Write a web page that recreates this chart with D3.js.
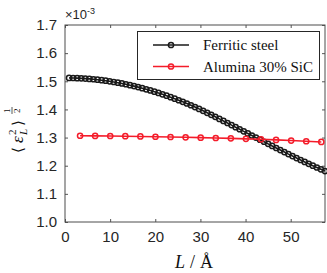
<!DOCTYPE html>
<html>
<head>
<meta charset="utf-8">
<script src="https://cdn.jsdelivr.net/npm/d3@7"></script>
<style>
  body { margin: 0; background: #fff; }
  svg { display: block; }
  .tick text { font-family: "Liberation Sans", Arial, sans-serif; font-size: 15px; fill: #262626; }
  .serif { font-family: "Liberation Serif", "Times New Roman", serif; fill: #111; }
</style>
</head>
<body>
<div class="chart"></div>
<script>
// values in units of 1e-3
var ferritic_L = [0.9, 1.8, 2.7, 3.6, 4.5, 5.4, 6.3, 7.2, 8.1, 9.0,
  9.9, 10.8, 11.7, 12.6, 13.5, 14.4, 15.3, 16.2, 17.1, 18.0,
  18.9, 19.8, 20.7, 21.6, 22.5, 23.4, 24.3, 25.2, 26.1, 27.0,
  27.9, 28.8, 29.7, 30.6, 31.5, 32.4, 33.3, 34.2, 35.1, 36.0,
  36.9, 37.8, 38.7, 39.6, 40.5, 41.4, 42.3, 43.2, 44.1, 45.0,
  45.9, 46.8, 47.7, 48.6, 49.5, 50.4, 51.3, 52.2, 53.1, 54.0,
  54.9, 55.8, 56.7, 57.6];
var ferritic_eps = [1.5120, 1.5117, 1.5112, 1.5105, 1.5096, 1.5085, 1.5072, 1.5056, 1.5039, 1.5020,
  1.4999, 1.4975, 1.4950, 1.4923, 1.4894, 1.4862, 1.4829, 1.4793, 1.4756, 1.4716,
  1.4675, 1.4631, 1.4586, 1.4538, 1.4488, 1.4437, 1.4383, 1.4327, 1.4270, 1.4210,
  1.4148, 1.4084, 1.4019, 1.3950, 1.3880, 1.3809, 1.3737, 1.3664, 1.3591, 1.3517,
  1.3443, 1.3369, 1.3295, 1.3221, 1.3147, 1.3073, 1.2999, 1.2925, 1.2851, 1.2777,
  1.2703, 1.2630, 1.2557, 1.2485, 1.2413, 1.2342, 1.2272, 1.2203, 1.2135, 1.2068,
  1.2002, 1.1937, 1.1873, 1.1810];

var alumina_L = [3.34, 6.68, 10.02, 13.36, 16.70, 20.04, 23.38, 26.72, 30.06, 33.40,
  36.74, 40.08, 43.42, 46.76, 50.10, 53.44, 56.78];
var alumina_eps = [1.3065, 1.3060, 1.3055, 1.3048, 1.3040, 1.3030, 1.3020, 1.3010, 1.2998, 1.2985,
  1.2972, 1.2955, 1.2938, 1.2918, 1.2895, 1.2870, 1.2845];

var x_ticks = [0, 10, 20, 30, 40, 50];
var y_ticks = [1.0, 1.1, 1.2, 1.3, 1.4, 1.5, 1.6, 1.7];
var series_names = ["Ferritic steel", "Alumina 30% SiC"];
var series_colors = ["#1a1a1a", "#f41c2a"];

var W = 327, H = 273;
var margin = {top: 25, right: 2, bottom: 51, left: 65};
var width = W - margin.left - margin.right,
    height = H - margin.top - margin.bottom;

var svg = d3.select(".chart").append("svg")
    .attr("width", W)
    .attr("height", H);

var g = svg.append("g")
    .attr("transform", "translate(" + margin.left + "," + margin.top + ")");

var x = d3.scaleLinear().domain([0, 57.6]).range([0, width]);
var y = d3.scaleLinear().domain([1.0, 1.7]).range([height, 0]);

// axes, ticks pointing inward like matlab
var xAxis = d3.axisBottom(x).tickValues(x_ticks).tickSize(-3).tickPadding(9).tickFormat(d3.format("d"));
var yAxis = d3.axisLeft(y).tickValues(y_ticks).tickSize(-3).tickPadding(8).tickFormat(d3.format(".1f"));

g.append("g").attr("class", "x axis")
    .attr("transform", "translate(0," + height + ")")
    .call(xAxis);
g.append("g").attr("class", "y axis").call(yAxis);
g.append("g").attr("transform", "translate(0,0)")
    .call(d3.axisTop(x).tickValues(x_ticks).tickSize(-3).tickFormat(""));
g.append("g").attr("transform", "translate(" + width + ",0)")
    .call(d3.axisRight(y).tickValues(y_ticks).tickSize(-3).tickFormat(""));

g.selectAll(".domain").remove();
g.selectAll(".tick line").attr("stroke", "#555");

g.append("rect")
    .attr("x", 0).attr("y", 0)
    .attr("width", width).attr("height", height)
    .attr("fill", "none")
    .attr("stroke", "#4d4d4d")
    .attr("stroke-width", 1);

var series = [
  {L: ferritic_L, v: ferritic_eps},
  {L: alumina_L, v: alumina_eps}
];

var line = d3.line()
    .x(function (d) { return x(d[0]); })
    .y(function (d) { return y(d[1]); });

series.forEach(function (s, i) {
  var pts = s.L.map(function (L, j) { return [L, s.v[j]]; });
  g.append("path")
      .datum(pts)
      .attr("d", line)
      .attr("fill", "none")
      .attr("stroke", series_colors[i])
      .attr("stroke-width", 1.6);
  g.selectAll(".dot" + i)
      .data(pts)
      .enter().append("circle")
      .attr("class", "dot" + i)
      .attr("cx", function (d) { return x(d[0]); })
      .attr("cy", function (d) { return y(d[1]); })
      .attr("r", 2.6)
      .attr("fill", "none")
      .attr("stroke", series_colors[i])
      .attr("stroke-width", 1.5);
});

// exponent label
var ex = svg.append("text")
    .attr("x", 65).attr("y", 19)
    .style("font-family", "Liberation Sans, Arial, sans-serif")
    .style("font-size", "13px")
    .style("fill", "#262626");
ex.append("tspan").text("\u00d710");
ex.append("tspan").attr("dy", -5).style("font-size", "9px").text("-3");

// legend
var legend = svg.append("g");
legend.append("rect")
    .attr("x", 137.5).attr("y", 31.5)
    .attr("width", 182).attr("height", 48)
    .attr("fill", "#fff")
    .attr("stroke", "#262626")
    .attr("stroke-width", 1);

series_names.forEach(function (name, i) {
  var ly = 45 + i * 21.5;
  legend.append("line")
      .attr("x1", 153).attr("x2", 189)
      .attr("y1", ly).attr("y2", ly)
      .attr("stroke", series_colors[i])
      .attr("stroke-width", 1.6);
  legend.append("circle")
      .attr("cx", 171).attr("cy", ly).attr("r", 2.6)
      .attr("fill", "none")
      .attr("stroke", series_colors[i])
      .attr("stroke-width", 1.5);
  legend.append("text")
      .attr("class", "serif")
      .attr("x", 203).attr("y", ly + 5)
      .style("font-size", "15px")
      .text(name);
});

// x label
var xl = svg.append("text")
    .attr("class", "serif")
    .attr("x", 194).attr("y", 268)
    .attr("text-anchor", "middle")
    .style("font-size", "18px");
xl.append("tspan").style("font-style", "italic").text("L");
xl.append("tspan").attr("dx", 5).text("/");
xl.append("tspan").attr("dx", 5).text("\u00c5");

// y label, rotated
var yl = svg.append("g")
    .attr("transform", "translate(23,126) rotate(-90)")
    .attr("class", "serif");
yl.append("text").attr("x", -27).attr("y", 0)
    .style("font-family", "DejaVu Serif, serif").style("font-size", "15px").text("\u27e8");
yl.append("text").attr("x", -17).attr("y", 0)
    .style("font-size", "17px").style("font-style", "italic").text("\u03b5");
yl.append("text").attr("x", -9).attr("y", -7)
    .style("font-size", "11px").text("2");
yl.append("text").attr("x", -9).attr("y", 4)
    .style("font-size", "11px").style("font-style", "italic").text("L");
yl.append("text").attr("x", 0).attr("y", 0)
    .style("font-family", "DejaVu Serif, serif").style("font-size", "15px").text("\u27e9");
yl.append("text").attr("x", 13).attr("y", -13)
    .style("font-size", "9px").text("1");
yl.append("line")
    .attr("x1", 12).attr("x2", 19).attr("y1", -11).attr("y2", -11)
    .attr("stroke", "#111").attr("stroke-width", 0.7);
yl.append("text").attr("x", 13).attr("y", -3)
    .style("font-size", "9px").text("2");
</script>
</body>
</html>
